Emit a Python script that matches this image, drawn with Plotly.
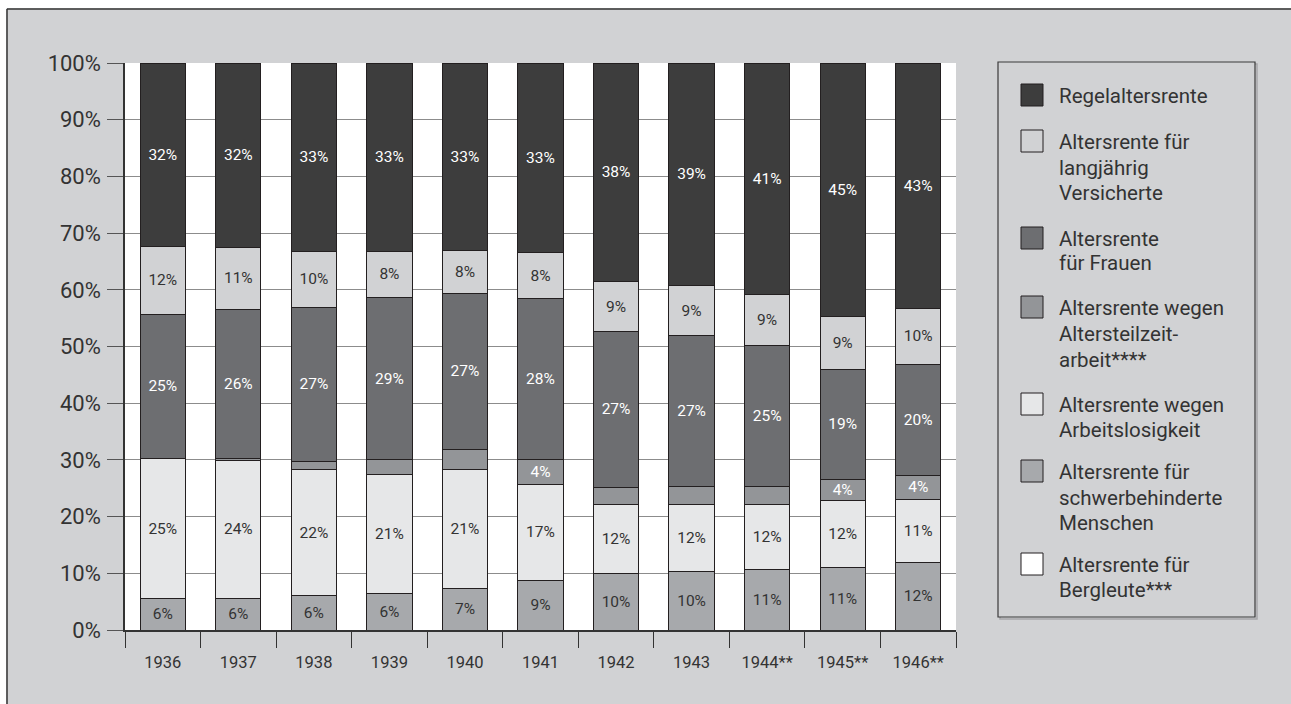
import plotly.graph_objects as go

# ---------------- data ----------------
years = ["1936", "1937", "1938", "1939", "1940", "1941", "1942", "1943", "1944**", "1945**", "1946**"]

bergleute = [0, 0, 0, 0, 0, 0, 0, 0, 0, 0, 0]
schwer = [5.5, 5.6, 6.0, 6.4, 7.35, 8.8, 10.0, 10.3, 10.6, 11.05, 11.9]
arbeitslos = [24.7, 24.3, 22.3, 21.1, 20.95, 16.9, 12.2, 11.75, 11.45, 11.85, 11.1]
teilzeit = [0.0, 0.4, 1.4, 2.5, 3.5, 4.3, 3.0, 3.25, 3.3, 3.7, 4.3]
frauen = [25.5, 26.3, 27.2, 28.7, 27.6, 28.5, 27.4, 26.6, 24.85, 19.4, 19.6]
langj = [12.0, 10.9, 9.9, 8.1, 7.6, 8.0, 8.8, 8.8, 8.9, 9.3, 9.8]
regel = [32.3, 32.5, 33.2, 33.2, 33.0, 33.5, 38.6, 39.3, 40.9, 44.7, 43.3]

schwer_lbl = ["6%", "6%", "6%", "6%", "7%", "9%", "10%", "10%", "11%", "11%", "12%"]
arbeitslos_lbl = ["25%", "24%", "22%", "21%", "21%", "17%", "12%", "12%", "12%", "12%", "11%"]
teilzeit_lbl = ["", "", "", "", "", "4%", "", "", "", "4%", "4%"]
frauen_lbl = ["25%", "26%", "27%", "29%", "27%", "28%", "27%", "27%", "25%", "19%", "20%"]
langj_lbl = ["12%", "11%", "10%", "8%", "8%", "8%", "9%", "9%", "9%", "9%", "10%"]
regel_lbl = ["32%", "32%", "33%", "33%", "33%", "33%", "38%", "39%", "41%", "45%", "43%"]
bergleute_lbl = [""] * 11

y_ticks = [0, 10, 20, 30, 40, 50, 60, 70, 80, 90, 100]
y_tick_text = ["0%", "10%", "20%", "30%", "40%", "50%", "60%", "70%", "80%", "90%", "100%"]

series_names = [
    ["Regelaltersrente"],
    ["Altersrente für", "langjährig", "Versicherte"],
    ["Altersrente", "für Frauen"],
    ["Altersrente wegen", "Altersteilzeit-", "arbeit****"],
    ["Altersrente wegen", "Arbeitslosigkeit"],
    ["Altersrente für", "schwerbehinderte", "Menschen"],
    ["Altersrente für", "Bergleute***"],
]

# ---------------- styles ----------------
C_REGEL = "#3d3d3d"
C_LANGJ = "#d1d2d4"
C_FRAUEN = "#6d6e71"
C_TZ = "#939598"
C_ARB = "#e6e7e8"
C_SCHWER = "#a7a9ac"
C_BERG = "#ffffff"
BG = "#d1d2d4"
OUTLINE = "#231f20"
TXT = "#333333"
FONT = "Roboto"

W, H = 1291, 704
ML, MT = 125, 63
MR = W - 956
MB = H - 630
PW, PH = W - ML - MR, H - MT - MB


def px(x):  # page x -> paper
    return (x - ML) / PW


def py(y):  # page y -> paper
    return (H - MB - y) / PH


stack = [
    (bergleute, bergleute_lbl, C_BERG, TXT, series_names[6]),
    (schwer, schwer_lbl, C_SCHWER, TXT, series_names[5]),
    (arbeitslos, arbeitslos_lbl, C_ARB, TXT, series_names[4]),
    (teilzeit, teilzeit_lbl, C_TZ, "#ffffff", series_names[3]),
    (frauen, frauen_lbl, C_FRAUEN, "#ffffff", series_names[2]),
    (langj, langj_lbl, C_LANGJ, TXT, series_names[1]),
    (regel, regel_lbl, C_REGEL, "#ffffff", series_names[0]),
]

fig = go.Figure()
for vals, lbls, col, tcol, name in stack:
    fig.add_trace(go.Bar(
        x=years, y=vals, name=" ".join(name),
        marker=dict(color=col, line=dict(color=OUTLINE, width=1)),
        text=lbls, textposition="inside", insidetextanchor="middle",
        textangle=0, constraintext="none",
        textfont=dict(family=FONT, size=15.5, color=tcol),
        showlegend=False, hoverinfo="x+y+name",
    ))

shapes = []
# white margin strips and frame lines at top and left
shapes.append(dict(type="rect", xref="paper", yref="paper", x0=px(-5), x1=px(W + 20), y0=py(8.3), y1=py(-5),
                   fillcolor="#ffffff", line=dict(width=0), layer="above"))
shapes.append(dict(type="rect", xref="paper", yref="paper", x0=px(-5), x1=px(6.3), y0=py(H + 20), y1=py(-5),
                   fillcolor="#ffffff", line=dict(width=0), layer="above"))
shapes.append(dict(type="line", xref="paper", yref="paper", x0=px(7), x1=px(W + 20), y0=py(9), y1=py(9),
                   line=dict(color="#333333", width=1.5), layer="above"))
shapes.append(dict(type="line", xref="paper", yref="paper", x0=px(7), x1=px(7), y0=py(9), y1=py(H + 20),
                   line=dict(color="#333333", width=1.5), layer="above"))

# legend box with subtle shadow
LX0, LX1, LY0, LY1 = 998, 1255, 62, 617
shapes.append(dict(type="rect", xref="paper", yref="paper", x0=px(LX0 + 2), x1=px(LX1 + 2), y0=py(LY1 + 2), y1=py(LY0 + 2),
                   fillcolor="rgba(0,0,0,0)", line=dict(color="#a6a7a9", width=1.5), layer="above"))
shapes.append(dict(type="rect", xref="paper", yref="paper", x0=px(LX0), x1=px(LX1), y0=py(LY1), y1=py(LY0),
                   fillcolor=BG, line=dict(color="#3a3a3a", width=1.2), layer="above"))

legend_colors = [C_REGEL, C_LANGJ, C_FRAUEN, C_TZ, C_ARB, C_SCHWER, C_BERG]
legend_line_centers = [
    [95],
    [141, 167, 192],
    [238, 262],
    [307, 333, 359],
    [404, 429],
    [471, 497, 522],
    [564, 589],
]

annotations = []
for lines, col, ycs in zip(series_names, legend_colors, legend_line_centers):
    yc = ycs[0]
    shapes.append(dict(type="rect", xref="paper", yref="paper", x0=px(1021), x1=px(1043),
                       y0=py(yc + 11), y1=py(yc - 11), fillcolor=col,
                       line=dict(color=OUTLINE, width=1), layer="above"))
    for line, yl in zip(lines, ycs):
        annotations.append(dict(xref="paper", yref="paper", x=px(1057), y=py(yl + 1),
                                xanchor="left", yanchor="middle", align="left", showarrow=False,
                                text=line, font=dict(family=FONT, size=20.5, color=TXT)))

fig.update_layout(
    width=W, height=H,
    margin=dict(l=ML, r=MR, t=MT, b=MB),
    paper_bgcolor=BG, plot_bgcolor="#ffffff",
    barmode="stack", bargap=0.4,
    showlegend=False,
    font=dict(family=FONT, color=TXT),
    shapes=shapes, annotations=annotations,
    xaxis=dict(type="category", tickson="boundaries", ticks="outside", ticklen=16,
               tickcolor="#333333", tickwidth=1.3, showline=True, linecolor="#333333", linewidth=1.5,
               showgrid=False, tickfont=dict(family=FONT, size=16.5, color=TXT), ticklabelstandoff=16),
    yaxis=dict(range=[0, 100], tickvals=y_ticks, ticktext=y_tick_text, ticks="outside", ticklen=16,
               tickcolor="#555555", tickwidth=1.3, showline=True, linecolor="#333333", linewidth=1.5,
               gridcolor="#8c8c8c", gridwidth=1.2, zeroline=False,
               tickfont=dict(family=FONT, size=22, color=TXT), ticklabelstandoff=2),
)

post = ("document.documentElement.style.overflow='hidden';"
        "document.body.style.overflow='hidden';"
        "document.documentElement.style.background='" + BG + "';"
        "document.body.style.background='" + BG + "';"
        "document.body.style.margin='0';")
fig.write_html("out.html", post_script=post, config={"displayModeBar": False})
